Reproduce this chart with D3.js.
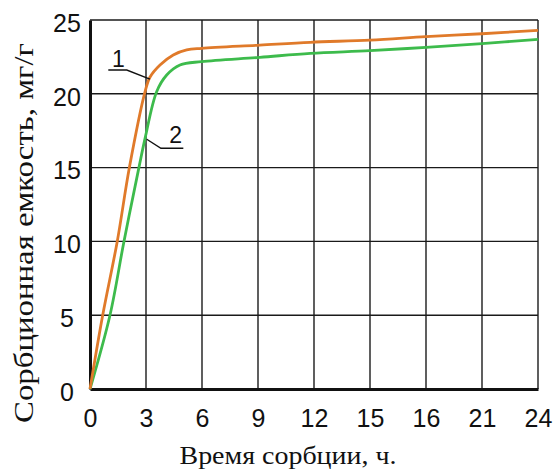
<!DOCTYPE html>
<html><head><meta charset="utf-8">
<script src="https://cdn.jsdelivr.net/npm/d3@7"></script>
<style>body{margin:0;background:#fff}svg{display:block}</style>
</head><body>
<svg id="c" width="553" height="470"></svg>
<script>
const xTicks = [0, 3, 6, 9, 12, 15, 18, 21, 24];
const xTickLabels = ["0", "3", "6", "9", "12", "15", "16", "21", "24"];
const yTicks = [0, 5, 10, 15, 20, 25];
const series1 = [[0,0],[0.68,5],[1.46,10],[2.11,15],[2.95,20.14],[3.21,21.12],[3.75,21.95],[4.46,22.63],[5.18,22.97],[5.98,23.08],[9.1,23.3],[11.8,23.49],[15,23.64],[18,23.87],[21,24.07],[24,24.3]];
const series2 = [[0,0],[1.07,5],[1.82,10],[2.62,15],[2.95,16.98],[3.57,20.14],[4.11,21.27],[4.82,21.95],[5.98,22.18],[9.1,22.47],[11.8,22.74],[15,22.92],[18,23.15],[21,23.4],[24,23.69]];
const seriesNames = ["1", "2"];
const xTitle = "Время сорбции, ч.";
const yTitle = "Сорбционная емкость, мг/г";

const svg = d3.select("#c");
const m = {l: 90, t: 20, r: 15, b: 81};
const W = 553, H = 470;
const x = d3.scaleLinear().domain([0, 24]).range([m.l, W - m.r]);
const y = d3.scaleLinear().domain([0, 25]).range([H - m.b, m.t]);

// grid as paths
const ld = d3.line().x(d => x(d[0])).y(d => y(d[1]));
const grid = svg.append("g").attr("fill", "none").attr("stroke", "#1a1a1a").attr("stroke-width", 1.4);
grid.selectAll("path.gx").data(xTicks.slice(1)).join("path").attr("class", "gx")
  .attr("d", d => ld([[d, 0], [d, 25]]));
grid.selectAll("path.gy").data(yTicks.slice(1)).join("path").attr("class", "gy")
  .attr("d", d => ld([[0, d], [24, d]]));

// axes (thick)
const xAxis = d3.axisBottom(x).tickValues(xTicks).tickSize(0).tickFormat((d,i) => xTickLabels[i]);
const yAxis = d3.axisLeft(y).tickValues(yTicks).tickSize(0);
const gx = svg.append("g").attr("transform", `translate(0,${y(0)})`).call(xAxis);
gx.select(".domain").attr("stroke", "#111").attr("stroke-width", 3);
gx.selectAll("text").attr("font-family", "Liberation Sans, Arial, sans-serif").attr("font-size", 25)
  .attr("fill", "#111").attr("dy", null).attr("y", 38);
const gy = svg.append("g").attr("transform", `translate(${x(0)},0)`).call(yAxis);
gy.select(".domain").attr("stroke", "#111").attr("stroke-width", 3);
gy.selectAll("text").attr("font-family", "Liberation Sans, Arial, sans-serif").attr("font-size", 25)
  .attr("fill", "#111").attr("text-anchor", "middle").attr("x", -23).attr("dy", "0.45em");

// lines
const line = d3.line().x(d => x(d[0])).y(d => y(d[1])).curve(d3.curveCatmullRom.alpha(0.5));
svg.append("path").datum(series2).attr("d", line).attr("fill", "none")
  .attr("stroke", "#3dbb4c").attr("stroke-width", 2.8);
svg.append("path").datum(series1).attr("d", line).attr("fill", "none")
  .attr("stroke", "#e07a2a").attr("stroke-width", 2.8);

// leaders & labels
const leaders = [
  [[0.98, 21.61], [1.97, 21.61], [3.21, 21.0]],
  [[3.04, 16.92], [3.8, 16.31], [5.0, 16.31]]
];
const labelPos = [[1.52, 22.4], [4.59, 17.2]];
leaders.forEach(p => svg.append("path").attr("d", ld(p)).attr("fill", "none")
  .attr("stroke", "#111").attr("stroke-width", 1.4));
svg.selectAll(".lab").data(labelPos).join("text")
  .attr("x", d => x(d[0])).attr("y", d => y(d[1])).attr("dy", "0.36em")
  .attr("text-anchor", "middle").attr("font-family", "Liberation Sans, Arial, sans-serif")
  .attr("font-size", 23).attr("fill", "#111").text((d,i) => seriesNames[i]);

// titles
svg.append("text").attr("x", 288).attr("y", 464)
  .attr("text-anchor", "middle").attr("font-family", "Liberation Serif, Times New Roman, serif")
  .attr("font-size", 26).attr("textLength", 217).attr("lengthAdjust", "spacingAndGlyphs")
  .attr("fill", "#111").text(xTitle);
svg.append("text").attr("transform", "translate(33,233) rotate(-90)")
  .attr("text-anchor", "middle").attr("font-family", "Liberation Serif, Times New Roman, serif")
  .attr("font-size", 27).attr("textLength", 380).attr("lengthAdjust", "spacingAndGlyphs")
  .attr("fill", "#111").text(yTitle);
</script>
</body></html>
